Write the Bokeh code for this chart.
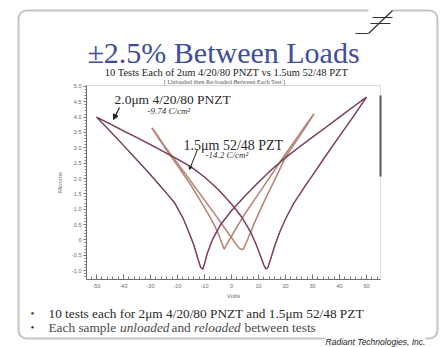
from bokeh.plotting import figure
from bokeh.models import Label, Arrow, NormalHead, BoxAnnotation, FixedTicker, Range1d
from bokeh.embed import file_html
from bokeh.resources import INLINE

# ---------------- data ----------------
# 2.0um 4/20/80 PNZT, +/-50 V sweep: forward (-50 -> +50) then reverse (+50 -> -50)
pnzt_fwd_v = [-50, -45, -40, -35, -30, -25, -20, -15, -10, -5, 0, 4, 7, 9, 11, 12, 12.8, 13.5,
              14.5, 16, 18, 20, 23, 27, 30, 35, 40, 45, 50]
pnzt_fwd_s = [4.00, 3.78, 3.55, 3.33, 3.10, 2.87, 2.63, 2.38, 2.05, 1.65, 1.17, 0.72, 0.27, -0.12,
              -0.58, -0.82, -0.95, -0.90, -0.62, -0.20, 0.28, 0.68, 1.18, 1.72, 2.10, 2.75, 3.38, 4.00, 4.65]
pnzt_rev_v = [50, 45, 40, 35, 30, 25, 20, 15, 10, 5, 0, -4, -7, -9, -10, -10.6, -11.4, -12.5,
              -14, -16, -18, -21, -25, -30, -35, -40, -45, -50]
pnzt_rev_s = [4.65, 4.33, 4.00, 3.67, 3.35, 3.02, 2.68, 2.30, 1.88, 1.43, 0.95, 0.50, 0.02, -0.45,
              -0.78, -0.95, -0.90, -0.60, -0.15, 0.30, 0.72, 1.20, 1.62, 2.12, 2.60, 3.08, 3.55, 4.00]

# 1.5um 52/48 PZT, +/-30 V sweep
pzt_fwd_v = [-29.5, -28, -25, -20, -15, -10, -5, -2, 0, 1.5, 3, 4.2, 5, 6, 8, 10, 13, 16, 20, 25, 28, 30.5]
pzt_fwd_s = [3.65, 3.48, 3.08, 2.50, 1.90, 1.30, 0.70, 0.32, 0.08, -0.12, -0.28, -0.32, -0.20, 0.02,
             0.45, 0.85, 1.42, 1.95, 2.70, 3.35, 3.75, 4.10]
pzt_rev_v = [30.5, 28, 25, 20, 15, 10, 5, 2, 0, -1.5, -2.7, -3.5, -4.5, -6, -8, -11, -15, -20, -25, -28, -29.5]
pzt_rev_s = [4.10, 3.80, 3.42, 2.80, 2.15, 1.50, 0.85, 0.42, 0.12, -0.10, -0.30, -0.12, 0.12, 0.42,
             0.75, 1.20, 1.78, 2.42, 3.05, 3.45, 3.65]

y_ticks = [5.0, 4.5, 4.0, 3.5, 3.0, 2.5, 2.0, 1.5, 1.0, 0.5, 0.0, -0.5, -1.0]
y_tick_labels = ["5.0", "4.5", "4.0", "3.5", "3.0", "2.5", "2.0", "1.5", "1.0", "0.5", "0", "-0.5", "-1.0"]
x_ticks = [-50, -40, -30, -20, -10, 0, 10, 20, 30, 40, 50]
x_tick_labels = ["-50", "-40", "-30", "-20", "-10", "0", "10", "20", "30", "40", "50"]

title_text = "\u00b12.5% Between Loads"
subtitle_text = "10 Tests Each of 2um 4/20/80 PNZT vs 1.5um 52/48 PZT"
bracket_text = "[ Unloaded then Re-loaded Between Each Test ]"
pnzt_label = "2.0\u03bcm 4/20/80 PNZT"
pnzt_value = "-9.74 C/cm\u00b2"
pzt_label = "1.5\u03bcm 52/48 PZT"
pzt_value = "-14.2 C/cm\u00b2"
bullet1_text = "10 tests each for 2\u03bcm 4/20/80 PNZT and 1.5\u03bcm 52/48 PZT"
bullet2_parts = ["Each sample", "unloaded", "and", "reloaded", "between tests"]
footer_text = "Radiant Technologies, Inc."

# ---------------- layout (page pixels; the Bokeh page has no body margin) ----------------
W, H = 442, 347
FL, FT, FW, FH = 86, 85, 294, 194    # plot box in page pixels
XMIN, XMAX = -53.7, 55.2
YMIN, YMAX = -1.29, 5.03


def dx(px):
    return XMIN + (px - FL) * (XMAX - XMIN) / FW


def dy(py):
    return YMAX - (py - FT) * (YMAX - YMIN) / FH


p = figure(width=W, height=H,
           x_range=Range1d(dx(0), dx(W)), y_range=Range1d(dy(H), dy(0)),
           output_backend="svg", toolbar_location=None,
           min_border=0, min_border_left=0, min_border_right=0, min_border_top=0, min_border_bottom=0)
p.grid.visible = False
p.background_fill_color = "white"
p.border_fill_color = "white"
p.outline_line_color = None

# slide frame
p.add_layout(BoxAnnotation(left=dx(18), right=dx(437), top=dy(10), bottom=dy(338),
                           fill_alpha=0, line_color="#3a3a3a", line_width=2, border_radius=8,
                           level="underlay"))
# plot box
p.add_layout(BoxAnnotation(left=XMIN, right=XMAX, top=YMAX, bottom=YMIN,
                           fill_color="white", fill_alpha=1, line_color="#8c8c8c", line_width=1,
                           level="underlay"))

# axes, fixed on the plot box edges
xa = p.xaxis[0]
ya = p.yaxis[0]
xa.fixed_location = YMIN
ya.fixed_location = XMIN
xa.bounds = (XMIN, XMAX)
ya.bounds = (YMIN, YMAX)
ya.ticker = FixedTicker(ticks=y_ticks, minor_ticks=[round(-1.2 + 0.1 * i, 2) for i in range(63)])
ya.major_label_overrides = {t: l for t, l in zip(y_ticks, y_tick_labels)}
xa.ticker = FixedTicker(ticks=x_ticks, minor_ticks=list(range(-52, 55, 2)))
xa.major_label_overrides = {t: l for t, l in zip(x_ticks, x_tick_labels)}
for ax in (xa, ya):
    ax.axis_line_color = "#6a6a6a"
    ax.major_tick_line_color = "#6a6a6a"
    ax.minor_tick_line_color = "#7a7a7a"
    ax.major_label_text_font = "Liberation Sans"
    ax.major_label_text_font_size = "5.5px"
    ax.major_label_text_color = "#6a6a6a"
    ax.axis_label_text_font = "Liberation Sans"
    ax.axis_label_text_font_size = "6px"
    ax.axis_label_text_font_style = "normal"
    ax.axis_label_text_color = "#6a6a6a"
ya.major_tick_out = 3
ya.major_tick_in = 0
ya.minor_tick_out = 2
ya.minor_tick_in = 0
ya.major_label_standoff = 2
ya.axis_label = "Microns"
ya.axis_label_standoff = 6
xa.major_tick_out = 0
xa.major_tick_in = 5
xa.minor_tick_out = 0
xa.minor_tick_in = 3
xa.major_label_standoff = 4
xa.axis_label = "Volts"
xa.axis_label_standoff = 2

# curves
pnzt_v = pnzt_fwd_v + pnzt_rev_v
pnzt_s = pnzt_fwd_s + pnzt_rev_s
pzt_v = pzt_fwd_v + pzt_rev_v
pzt_s = pzt_fwd_s + pzt_rev_s
p.line(pzt_v, pzt_s, line_color="#b8a682", line_width=1.7)
p.line(pzt_v, pzt_s, line_color="#c8507a", line_width=0.7, line_alpha=0.75)
p.line(pnzt_v, pnzt_s, line_color="#4d3b52", line_width=1.4)
p.line(pnzt_v, pnzt_s, line_color="#cc3d6e", line_width=0.7, line_alpha=0.85)


def seg(x0, y0, x1, y1, color="#333333", width=1.5, head=None):
    p.add_layout(Arrow(x_start=dx(x0), y_start=dy(y0), x_end=dx(x1), y_end=dy(y1),
                       line_color=color, line_width=width, end=head))


# gap in top edge + ferroelectric capacitor symbol
seg(368, 10, 392, 10, color="white", width=4)
seg(372, 17, 392, 17, width=1.2)
seg(370, 23, 390, 23, width=1.2)
seg(368, 33, 392, 10, width=1.2)
seg(355, 33, 368, 33, width=1.2)
# shadow on plot edge
seg(380, 95, 380, 176, color="#5a5a5a", width=2)


def lab(x, y, text, size, color="#222222", font="Liberation Serif", style="normal", align="left",
        bg=None):
    p.add_layout(Label(x=dx(x), y=dy(y), text=text, text_font=font, text_font_size=size,
                       text_color=color, text_font_style=style, text_align=align,
                       text_baseline="alphabetic", background_fill_color=bg))


lab(223, 52, title_text, "30px", color="#3d4e9e", align="center")
lab(226, 72, subtitle_text, "10.5px", color="#222222", align="center")
lab(224, 80.5, bracket_text, "6.3px", color="#555555", align="center")

lab(114, 99, pnzt_label, "13.5px", color="#2a2a2a")
lab(147, 110, pnzt_value, "9px", color="#333333", style="italic")
lab(183, 144.5, pzt_label, "14px", color="#2a2a2a")
lab(205, 154, pzt_value, "9px", color="#333333", style="italic")

seg(119, 107, 113, 119, color="#222222", width=1.2,
    head=NormalHead(size=5, fill_color="#222222", line_color="#222222"))
seg(197, 149, 189, 169, color="#222222", width=1.0,
    head=NormalHead(size=3, fill_color="#222222", line_color="#222222"))

# bullets
lab(32, 312, "\u2022", "11px", color="#333333", align="center")
lab(32, 326, "\u2022", "11px", color="#333333", align="center")
lab(48, 313, bullet1_text, "13.3px", color="#2a2a2a")
b2_x = [48, 119.5, 171, 193.5, 244]
b2_style = ["normal", "italic", "normal", "italic", "normal"]
for xx, tt, st in zip(b2_x, bullet2_parts, b2_style):
    lab(xx, 327, tt, "13.3px", color="#4a4a4a", style=st)

lab(375, 341, footer_text, "8.5px", color="#222222", font="Liberation Sans", style="italic",
    align="center", bg="white")

open("out.html", "w").write(file_html(p, INLINE))
